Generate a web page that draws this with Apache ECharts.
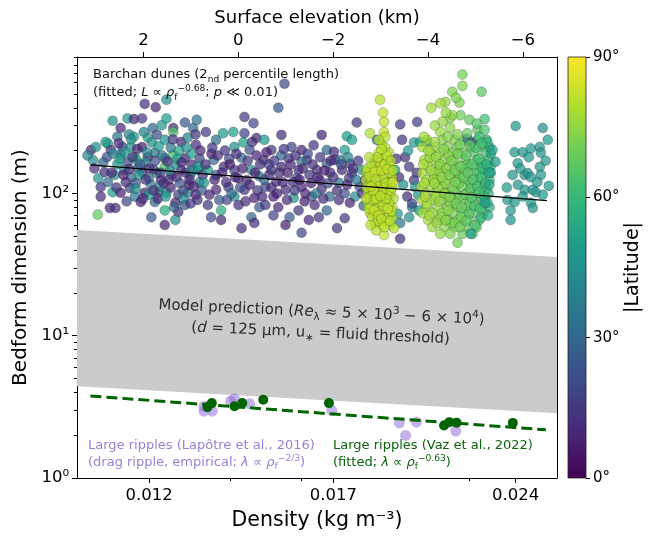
<!DOCTYPE html>
<html>
<head>
<meta charset="utf-8">
<title>Bedform dimension vs density</title>
<script src="https://cdn.jsdelivr.net/npm/echarts@6/dist/echarts.min.js"></script>
<style>
  html, body { margin: 0; padding: 0; background: #fff; }
  #main { width: 652px; height: 537px; }
</style>
</head>
<body>
<div id="main"></div>
<script>
// ---- data: [density (kg m^-3), length (m), |latitude| (deg)] ----
var duneWestMixed = [
  [0.01075,202,10],[0.01079,172,45],[0.01085,212,45],[0.01095,111,15],[0.01095,95,12],[0.01089,71,68],
  [0.01110,224,48],[0.01116,202,15],[0.01103,141,12],[0.01124,135,45],[0.01120,102,50],[0.01114,79,10],
  [0.01126,79,12],[0.01120,324,45],[0.01137,288,10],[0.01152,337,48],[0.01166,333,12],[0.01184,337,15],
  [0.01130,250,35],[0.01141,212,20],[0.01159,212,45],[0.01166,250,50],[0.01184,212,10],[0.01197,247,48],
  [0.01208,288,30],[0.01218,259,22],[0.01229,302,48],[0.01236,238,45],[0.01240,337,50],[0.01256,288,12],
  [0.01256,270,65],[0.01275,230,10],[0.01284,315,25],[0.01291,247,40],[0.01304,288,30],[0.01311,220,12],
  [0.01137,187,28],[0.01152,166,20],[0.01168,180,62],[0.01197,180,10],[0.01213,193,35],[0.01236,177,28],
  [0.01256,187,62],[0.01284,177,10],[0.01145,146,40],[0.01161,130,30],[0.01184,141,15],[0.01199,128,25],
  [0.01218,139,40],[0.01236,154,65],[0.01252,135,20],[0.01275,146,12],[0.01297,135,30],[0.01316,146,45],
  [0.01137,101,8],[0.01157,109,20],[0.01168,95,35],[0.01190,101,10],[0.01199,98,50],[0.01222,102,25],
  [0.01240,101,45],[0.01268,98,15],[0.01291,101,35],[0.01311,98,10],[0.01181,87,10],[0.01213,87,30],
  [0.01236,76,55],[0.01261,86,10],[0.01284,83,25],[0.01268,74,12],[0.01236,60,10],[0.01261,65,45],
  [0.01190,426,12],[0.01215,403,10],[0.01240,455,45],[0.01313,329,35],[0.01172,172,55],[0.01204,115,35],
  [0.01227,124,10],[0.01294,115,8],[0.01108,180,20],[0.01130,160,48],[0.01148,120,12],[0.01175,150,28],
  [0.01192,165,45],[0.01210,148,18],[0.01225,112,40],[0.01245,125,14],[0.01262,160,42],[0.01280,105,20],
  [0.01300,160,12],[0.01320,120,40],[0.01170,118,22],[0.01250,210,35],[0.01300,190,48],[0.01155,260,40],
  [0.01270,200,52],[0.01320,175,18],[0.01110,120,30],[0.01205,68,25],
  [0.01068,185,40],[0.01082,150,12],[0.01090,128,45],[0.01100,165,30],[0.01105,230,48],[0.01118,140,10],
  [0.01122,190,42],[0.01128,110,15],[0.01133,225,12],[0.01135,175,50],[0.01143,135,8],[0.01146,195,48],
  [0.01150,88,20],[0.01156,148,12],[0.01160,240,45],[0.01163,180,15],[0.01170,108,45],[0.01173,205,10],
  [0.01178,135,48],[0.01180,160,25],[0.01186,92,12],[0.01188,270,40],[0.01192,125,15],[0.01195,195,42],
  [0.01200,150,10],[0.01206,228,45],[0.01210,105,12],[0.01214,170,22],[0.01220,92,10],[0.01222,215,48],
  [0.01226,140,14],[0.01230,185,35],[0.01234,118,10],[0.01238,95,48],[0.01242,168,12],[0.01248,145,40],
  [0.01250,110,10],[0.01255,240,15],[0.01258,80,30],[0.01264,130,10],[0.01266,175,48],[0.01272,118,22],
  [0.01276,165,10],[0.01280,92,40],[0.01286,140,12],[0.01288,210,45],[0.01295,125,10],[0.01298,85,15],
  [0.01303,145,42],[0.01306,112,10],[0.01310,260,15],[0.01315,90,12],[0.01318,155,48],[0.01322,200,10],
  [0.01326,105,25],[0.01328,135,12]
];
var duneMidDark = [
  [0.01550,590,20],[0.01532,400,25],[0.01437,345,15],[0.01462,312,20],[0.01437,265,18],[0.01407,270,50],
  [0.01336,270,15],[0.01362,238,32],[0.01380,265,48],[0.01410,212,45],[0.01434,228,50],[0.01470,245,12],
  [0.01492,238,48],[0.01512,202,15],[0.01541,258,12],[0.01571,212,18],[0.01601,202,10],[0.01638,218,14],
  [0.01663,258,10],[0.01679,202,30],[0.01341,146,50],[0.01356,172,32],[0.01382,154,12],[0.01410,146,15],
  [0.01429,178,30],[0.01456,146,45],[0.01490,172,10],[0.01512,146,15],[0.01541,154,8],[0.01562,176,12],
  [0.01592,146,10],[0.01617,172,18],[0.01648,146,12],[0.01679,162,28],[0.01331,119,45],[0.01362,106,10],
  [0.01394,111,15],[0.01410,95,45],[0.01437,106,12],[0.01464,93,8],[0.01495,111,20],[0.01518,95,10],
  [0.01553,106,12],[0.01577,93,45],[0.01601,111,10],[0.01632,95,25],[0.01663,108,12],[0.01688,95,30],
  [0.01341,83,15],[0.01375,76,55],[0.01421,83,12],[0.01478,80,25],[0.01532,80,10],[0.01592,76,15],
  [0.01641,83,12],[0.01349,68,20],[0.01375,65,10],[0.01456,68,30],[0.01464,62,12],[0.01518,70,18],
  [0.01565,68,25],[0.01623,65,10],[0.01654,68,15],[0.01362,135,25],[0.01443,124,10],[0.01478,132,35],
  [0.01526,121,12],[0.01586,128,20],[0.01657,124,10],[0.01396,175,20],[0.01601,167,30],[0.01451,202,22],
  [0.01495,83,15],[0.01553,60,8],[0.01429,57,12],[0.01601,53,20],[0.01350,190,10],[0.01420,128,8],
  [0.01505,160,18],[0.01575,120,10],[0.01625,135,15],[0.01690,140,12],[0.01470,185,10],[0.01540,185,30],
  [0.01610,88,8],[0.01390,90,20],
  [0.01335,160,12],[0.01345,98,10],[0.01352,210,15],[0.01358,125,8],[0.01366,185,12],[0.01370,90,25],
  [0.01378,140,10],[0.01385,200,15],[0.01388,120,12],[0.01398,160,8],[0.01402,100,30],[0.01412,130,12],
  [0.01415,190,10],[0.01425,110,20],[0.01432,150,8],[0.01440,88,12],[0.01446,170,15],[0.01452,115,10],
  [0.01458,230,12],[0.01466,140,8],[0.01473,105,15],[0.01480,160,12],[0.01486,95,10],[0.01492,125,30],
  [0.01498,195,8],[0.01506,135,12],[0.01512,110,10],[0.01520,170,15],[0.01528,100,8],[0.01535,140,12],
  [0.01545,120,10],[0.01548,205,15],[0.01557,90,12],[0.01560,140,8],[0.01568,160,10],[0.01580,105,15],
  [0.01583,185,12],[0.01595,125,8],[0.01605,150,12],[0.01612,100,10],[0.01620,190,20],[0.01630,118,8],
  [0.01635,160,12],[0.01645,100,35],[0.01650,130,10],[0.01658,180,15],[0.01668,92,12],[0.01672,145,8],
  [0.01683,118,20],[0.01692,170,12]
];
var duneEastMixed = [
  [0.01777,315,15],[0.01929,305,15],[0.01992,318,18],[0.01744,252,48],[0.01761,238,50],[0.01846,238,35],
  [0.01936,238,15],[0.01980,228,48],[0.02003,230,50],[0.02030,228,48],[0.01737,202,50],[0.01702,196,12],
  [0.01705,172,10],[0.01722,172,35],[0.01754,162,12],[0.01728,146,10],[0.01761,139,15],[0.01794,146,45],
  [0.01805,124,12],[0.01787,111,20],[0.01751,128,15],[0.01718,119,35],[0.01737,100,22],[0.01771,95,45],
  [0.01718,90,12],[0.01754,86,10],[0.01737,67,15],[0.01947,180,12],[0.01962,154,15],[0.01925,130,12],
  [0.01911,146,48],[0.01980,124,15],[0.01984,111,48],[0.01973,80,35],[0.01962,68,45],[0.01929,62,35],
  [0.01929,48,12],[0.01973,85,20],[0.01996,98,48],[0.02000,76,48],[0.01712,57,15],[0.01679,76,30],
  [0.01700,130,15],[0.01712,105,12],[0.01725,160,20],[0.01745,115,10],[0.01748,180,40],[0.01765,150,12],
  [0.01775,125,35],[0.01782,170,15],[0.01795,100,12],[0.01800,82,30],[0.01915,175,15],[0.01940,115,45],
  [0.01955,95,12],[0.01958,200,48],[0.01990,140,15],[0.01920,72,48]
];
var duneYellowColumn = [
  [0.01857,455,80],[0.01868,370,81],[0.01871,318,80],[0.01871,270,82],[0.01875,250,80],[0.01822,265,79],
  [0.01864,218,81],[0.01875,210,80],[0.01853,193,82],[0.01889,193,79],[0.01839,172,80],[0.01864,172,81],
  [0.01882,172,79],[0.01836,154,82],[0.01857,154,80],[0.01893,154,78],[0.01811,141,80],[0.01829,130,81],
  [0.01853,135,80],[0.01875,135,82],[0.01900,130,79],[0.01818,111,81],[0.01839,115,80],[0.01864,115,82],
  [0.01889,111,80],[0.01822,95,79],[0.01846,98,81],[0.01871,95,80],[0.01893,98,78],[0.01829,80,80],
  [0.01853,83,82],[0.01875,80,81],[0.01900,80,79],[0.01822,73,80],[0.01846,70,81],[0.01875,70,80],
  [0.01900,68,78],[0.01839,62,80],[0.01864,60,82],[0.01893,60,79],[0.01871,51,81],[0.01907,57,79],
  [0.01808,124,80],[0.01832,102,81],[0.01886,122,80],[0.01860,88,82],[0.01815,85,80],[0.01882,65,81],
  [0.01843,55,80],[0.01853,238,80],[0.01826,120,82],[0.01848,105,80],[0.01880,90,81],[0.01834,90,79],
  [0.01896,118,80],[0.01858,75,81],[0.01830,68,80],[0.01885,100,82],[0.01815,100,80],[0.01868,128,79],
  [0.01845,146,81],[0.01890,140,80],[0.01905,92,78],[0.01890,72,80],[0.01850,64,80],
  [0.01812,150,81],[0.01820,132,80],[0.01828,160,79],[0.01838,142,82],[0.01842,125,80],[0.01850,112,81],
  [0.01855,165,80],[0.01862,145,82],[0.01866,100,80],[0.01870,108,79],[0.01874,160,81],[0.01878,118,80],
  [0.01884,148,82],[0.01888,85,80],[0.01895,105,81],[0.01898,75,80],[0.01810,110,79],[0.01818,78,81],
  [0.01824,60,80],[0.01836,76,82],[0.01842,92,80],[0.01852,70,81],[0.01862,66,80],[0.01868,82,79],
  [0.01872,58,81],[0.01878,92,80],[0.01884,78,82],[0.01892,64,80],[0.01900,110,80],[0.01903,145,79],
  [0.01835,105,81],[0.01858,96,80],[0.01848,180,80],[0.01880,185,81],[0.01862,205,80],[0.01820,180,79],
  [0.01896,170,80],[0.01902,120,82],[0.01808,92,80],[0.01826,112,81]
];
var duneGreenCluster = [
  [0.02170,685,70],[0.02129,518,72],[0.02170,570,72],[0.02250,518,66],[0.02158,435,72],[0.02101,440,75],
  [0.02121,340,73],[0.02162,355,70],[0.02199,329,68],[0.02263,333,62],[0.02046,400,77],[0.02081,430,77],
  [0.02129,355,74],[0.02081,270,76],[0.02233,280,66],[0.02263,280,65],
  [0.02030,238,77],[0.02089,238,74],[0.02137,238,72],[0.02178,238,70],[0.02233,238,65],[0.02271,238,60],
  [0.02011,212,77],[0.02062,212,76],[0.02109,212,73],[0.02150,212,71],[0.02204,212,67],[0.02254,212,64],[0.02284,212,55],
  [0.02042,193,76],[0.02081,193,75],[0.02129,193,72],[0.02170,193,70],[0.02220,193,66],[0.02267,193,63],
  [0.02019,172,78],[0.02058,172,76],[0.02097,172,74],[0.02137,172,71],[0.02183,172,69],[0.02229,172,66],[0.02280,172,62],
  [0.02034,154,77],[0.02077,154,75],[0.02117,154,73],[0.02158,154,70],[0.02199,154,67],[0.02245,154,64],[0.02288,154,58],
  [0.02011,139,78],[0.02054,139,76],[0.02093,139,74],[0.02133,139,71],[0.02174,139,69],[0.02216,139,66],[0.02263,139,63],
  [0.02027,124,77],[0.02070,124,75],[0.02109,124,73],[0.02150,124,71],[0.02191,124,68],[0.02237,124,65],[0.02284,124,60],
  [0.02007,111,78],[0.02046,111,76],[0.02089,111,74],[0.02129,111,72],[0.02170,111,70],[0.02212,111,67],[0.02258,111,63],
  [0.02023,100,77],[0.02062,100,76],[0.02105,100,73],[0.02145,100,71],[0.02187,100,68],[0.02229,100,65],[0.02280,100,58],
  [0.02011,90,78],[0.02050,90,76],[0.02093,90,74],[0.02133,90,72],[0.02174,90,69],[0.02216,90,66],[0.02263,90,62],
  [0.02027,80,77],[0.02070,80,75],[0.02109,80,73],[0.02150,80,70],[0.02191,80,68],[0.02237,80,64],[0.02284,80,55],
  [0.02011,73,77],[0.02050,73,76],[0.02089,73,74],[0.02129,73,71],[0.02170,73,69],[0.02212,73,66],[0.02258,73,62],
  [0.02034,65,77],[0.02074,65,75],[0.02113,65,73],[0.02154,65,70],[0.02195,65,67],[0.02241,65,63],
  [0.02050,58,76],[0.02097,58,74],[0.02137,58,71],[0.02183,58,68],[0.02229,58,64],
  [0.02081,52,75],[0.02121,52,72],[0.02170,52,69],[0.02212,52,66],[0.02150,45,70],[0.02204,52,50],
  [0.02208,228,20],[0.02191,242,30],
  [0.02040,180,76],[0.02115,185,73],[0.02190,160,68],[0.02250,165,63],[0.02075,145,75],[0.02160,130,70],
  [0.02240,140,64],[0.02020,118,78],[0.02100,118,74],[0.02205,118,66],[0.02270,108,61],[0.02065,95,76],
  [0.02160,95,70],[0.02245,95,63],[0.02030,85,77],[0.02120,86,72],[0.02200,86,67],[0.02275,86,57],
  [0.02085,68,74],[0.02165,68,70],[0.02250,68,60],[0.02125,62,72],[0.02060,300,76],[0.02120,290,74],
  [0.02190,265,69],[0.02150,260,72],[0.02240,250,62],[0.02290,190,52],[0.02290,140,50],[0.02275,230,58],
  [0.02015,160,78],[0.02035,200,77],[0.02045,145,76],[0.02055,125,76],[0.02065,180,75],[0.02072,110,75],
  [0.02080,160,74],[0.02088,130,74],[0.02095,205,73],[0.02098,100,74],[0.02105,150,73],[0.02112,76,73],
  [0.02118,135,72],[0.02125,170,72],[0.02132,105,71],[0.02140,145,71],[0.02145,85,70],[0.02152,190,70],
  [0.02156,118,70],[0.02163,155,69],[0.02167,80,69],[0.02175,130,68],[0.02180,98,68],[0.02186,185,67],
  [0.02193,140,67],[0.02198,72,66],[0.02203,108,66],[0.02210,160,65],[0.02215,125,65],[0.02220,82,64],
  [0.02226,210,64],[0.02232,112,63],[0.02238,175,62],[0.02244,78,62],[0.02248,130,61],[0.02255,150,60],
  [0.02260,96,60],[0.02266,118,58],[0.02272,160,56],[0.02278,70,55],[0.02282,140,52],[0.02022,95,78],
  [0.02038,70,77],[0.02058,118,76],[0.02068,62,75],[0.02078,88,75],[0.02102,65,73],[0.02118,95,72],
  [0.02138,62,71],[0.02142,120,71],[0.02160,58,70],[0.02185,64,68],[0.02208,94,66],[0.02222,60,64],
  [0.02240,102,63],[0.02018,250,77],[0.02060,230,76],[0.02110,250,73],[0.02160,220,70],[0.02200,220,67],
  [0.02250,225,62],[0.02090,320,75],[0.02230,310,65],[0.02144,470,72],[0.02103,370,75]
];
var duneTealRight = [
  [0.02297,202,50],[0.02310,167,48],[0.02400,298,47],[0.02526,288,45],[0.02550,238,48],[0.02395,195,47],
  [0.02432,195,46],[0.02470,207,48],[0.02512,212,46],[0.02517,193,47],[0.02409,163,48],[0.02386,135,46],
  [0.02441,135,47],[0.02455,139,45],[0.02470,130,48],[0.02512,154,46],[0.02517,135,47],[0.02441,106,48],
  [0.02479,106,46],[0.02493,102,47],[0.02526,98,48],[0.02555,113,47],[0.02363,90,48],[0.02395,87,46],
  [0.02432,95,47],[0.02470,86,50],[0.02479,79,46],[0.02377,76,47],[0.02377,65,46],[0.02284,115,52],
  [0.02263,86,50],[0.02500,120,47],[0.02420,150,46],[0.02460,180,48],[0.02540,170,46],[0.02360,110,47],
  [0.02410,115,46]
];

// large ripples: [density, wavelength (m)]
var rippleLapotre = [
  [0.01331,3.19],[0.01331,2.95],[0.01352,2.95],[0.01400,3.47],[0.01410,3.61],[0.01451,3.33],
  [0.01695,2.98],[0.01926,2.44],[0.01989,2.47],[0.01949,1.99],[0.02143,2.14]
];
var rippleVaz = [
  [0.01340,3.15],[0.01351,3.36],[0.01410,3.19],[0.01431,3.36],[0.01489,3.55],[0.01686,3.36],
  [0.02096,2.34],[0.02117,2.47],[0.02146,2.45],[0.02387,2.44]
];

// fitted lines
var duneFitX = [0.01074, 0.02546];
var duneFitY = [158.8, 89.0];
var rippleFitX = [0.01074, 0.02541];
var rippleFitY = [3.77, 2.18];

// model prediction band
var bandX = [0.01047, 0.02595];
var bandTop = [55.3, 35.7];
var bandBottom = [4.41, 2.85];

// axes
var xMin = 0.01047, xMax = 0.02595;
var yMin = 1, yMax = 910;
var xTickValues = [0.012, 0.017, 0.024];
var xTickLabels = ['0.012', '0.017', '0.024'];
var xMinorTicks = [0.014, 0.016, 0.022];
var yTickValues = [1, 10, 100];
var yTickLabels = ['10\u2070', '10\u00b9', '10\u00b2'];
var yMinorTicks = [2,3,4,5,6,7,8,9,20,30,40,50,60,70,80,90,200,300,400,500,600,700,800,900];
var elevMin = -6.72, elevMax = 3.40;
var elevTicks = [2, 0, -2, -4, -6];
var latTicks = [0, 30, 60, 90];

var viridis = ['#440154','#482878','#3e4989','#31688e','#26828e','#1f9e89','#35b779','#6ece58','#b5de2b','#fde725'];

var FONT = 'DejaVu Sans';

function richStyles(size) {
  return {
    i: { fontFamily: FONT, fontSize: size, fontStyle: 'italic' },
    sub: { fontFamily: FONT, fontSize: size * 0.7, verticalAlign: 'bottom', lineHeight: 10 },
    sup: { fontFamily: FONT, fontSize: size * 0.7, verticalAlign: 'top', lineHeight: 8 }
  };
}

function pairs(xs, ys) {
  return xs.map(function (x, i) { return [x, ys[i]]; });
}

var chart = echarts.init(document.getElementById('main'));

function duneSeries(data) {
  return {
    type: 'scatter',
    data: data,
    symbolSize: 10,
    itemStyle: { opacity: 0.72, borderColor: 'rgba(0,0,0,0.55)', borderWidth: 0.5 },
    emphasis: { disabled: true }
  };
}

var axisLineBlack = { onZero: false, lineStyle: { color: '#000', width: 1 } };
var nameStyle = { fontFamily: FONT, fontSize: 20, color: '#000' };

var option = {
  animation: false,
  backgroundColor: '#fff',
  grid: [
    { left: 77, top: 57, width: 480, height: 421 },
    { left: 568, top: 57, width: 18, height: 421 }
  ],
  xAxis: [
    {
      type: 'log', gridIndex: 0, position: 'bottom', min: xMin, max: xMax,
      name: 'Density (kg m\u207b\u00b3)', nameLocation: 'middle', nameGap: 32,
      nameTextStyle: { fontFamily: FONT, fontSize: 20.5, color: '#000' },
      axisLine: axisLineBlack,
      axisTick: { customValues: xTickValues, length: 5, lineStyle: { color: '#000' } },
      axisLabel: {
        customValues: xTickValues, margin: 9, fontFamily: FONT, fontSize: 16.5, color: '#000',
        formatter: function (v) { return xTickLabels[xTickValues.indexOf(+(+v).toFixed(3))] || ''; }
      },
      splitLine: { show: false }
    },
    {
      type: 'value', gridIndex: 0, position: 'top', min: elevMin, max: elevMax, inverse: true,
      name: 'Surface elevation (km)', nameLocation: 'middle', nameGap: 30,
      nameTextStyle: { fontFamily: FONT, fontSize: 18, color: '#000' },
      axisLine: axisLineBlack,
      axisTick: { customValues: elevTicks, length: 5, lineStyle: { color: '#000' } },
      axisLabel: {
        customValues: elevTicks, margin: 8, fontFamily: FONT, fontSize: 16.5, color: '#000',
        formatter: function (v) { return String(Math.round(v)).replace('-', '\u2212'); }
      },
      splitLine: { show: false }
    },
    {
      type: 'log', gridIndex: 0, position: 'bottom', min: xMin, max: xMax,
      axisLine: { show: false, onZero: false },
      axisTick: { customValues: xMinorTicks, length: 3, lineStyle: { color: '#000' } },
      axisLabel: { show: false },
      splitLine: { show: false }
    },
    {
      type: 'value', gridIndex: 1, min: 0, max: 1, show: false
    }
  ],
  yAxis: [
    {
      type: 'log', gridIndex: 0, position: 'left', min: yMin, max: yMax,
      name: 'Bedform dimension (m)', nameLocation: 'middle', nameGap: 44, nameTextStyle: nameStyle,
      axisLine: axisLineBlack,
      axisTick: { customValues: yTickValues, length: 5, lineStyle: { color: '#000' } },
      axisLabel: {
        customValues: yTickValues, margin: 8, fontFamily: FONT, fontSize: 16.5, color: '#000',
        formatter: function (v) { return yTickLabels[yTickValues.indexOf(Math.round(v))] || ''; }
      },
      splitLine: { show: false }
    },
    {
      type: 'log', gridIndex: 0, position: 'right', min: yMin, max: yMax,
      axisLine: { show: true, onZero: false, lineStyle: { color: '#000', width: 1 } },
      axisTick: { show: false }, axisLabel: { show: false }, splitLine: { show: false }
    },
    {
      type: 'log', gridIndex: 0, position: 'left', min: yMin, max: yMax,
      axisLine: { show: false, onZero: false },
      axisTick: { customValues: yMinorTicks, length: 3, lineStyle: { color: '#000' } },
      axisLabel: { show: false }, splitLine: { show: false }
    },
    {
      type: 'value', gridIndex: 1, position: 'right', min: 0, max: 90,
      name: '|Latitude|', nameLocation: 'middle', nameGap: 34, nameRotate: 90,
      nameTextStyle: { fontFamily: FONT, fontSize: 19, color: '#000' },
      axisLine: { show: false, onZero: false },
      axisTick: { customValues: latTicks, length: 4, lineStyle: { color: '#000' } },
      axisLabel: {
        customValues: latTicks, margin: 7, fontFamily: FONT, fontSize: 15, color: '#000',
        formatter: function (v) { return Math.round(v) + '\u00b0'; }
      },
      splitLine: { show: false }
    }
  ],
  visualMap: {
    type: 'continuous', show: false, min: 0, max: 90, dimension: 2,
    seriesIndex: [1, 2, 3, 4, 5, 6],
    inRange: { color: viridis }
  },
  series: [
    {
      type: 'custom', xAxisIndex: 0, yAxisIndex: 0, clip: true, silent: true,
      data: [[bandX[0], bandTop[0]]],
      renderItem: function (params, api) {
        var pts = [];
        for (var i = 0; i < bandX.length; i++) pts.push(api.coord([bandX[i], bandTop[i]]));
        for (var j = bandX.length - 1; j >= 0; j--) pts.push(api.coord([bandX[j], bandBottom[j]]));
        return { type: 'polygon', shape: { points: pts }, style: { fill: '#cbcbcb' } };
      },
      z: 1
    },
    duneSeries(duneWestMixed),
    duneSeries(duneMidDark),
    duneSeries(duneEastMixed),
    duneSeries(duneYellowColumn),
    duneSeries(duneGreenCluster),
    duneSeries(duneTealRight),
    {
      type: 'line', data: pairs(duneFitX, duneFitY), showSymbol: false, silent: true,
      lineStyle: { color: '#000', width: 1.3 }, z: 5
    },
    {
      type: 'scatter', data: rippleLapotre, symbolSize: 11,
      itemStyle: { color: '#9370db', opacity: 0.55 }, z: 3
    },
    {
      type: 'line', data: pairs(rippleFitX, rippleFitY), showSymbol: false, silent: true,
      lineStyle: { color: '#006400', width: 3, type: [11, 5] }, z: 4
    },
    {
      type: 'scatter', data: rippleVaz, symbolSize: 10,
      itemStyle: { color: '#006400', opacity: 1 }, z: 5
    },
    {
      type: 'custom', xAxisIndex: 3, yAxisIndex: 3, silent: true,
      data: [[0, 0]],
      renderItem: function (params, api) {
        var a = api.coord([0, 90]);
        var b = api.coord([1, 0]);
        var stops = viridis.map(function (c, i) { return { offset: i / (viridis.length - 1), color: c }; });
        return {
          type: 'rect',
          shape: { x: a[0], y: a[1], width: b[0] - a[0], height: b[1] - a[1] },
          style: { fill: new echarts.graphic.LinearGradient(0, 1, 0, 0, stops), stroke: '#222', lineWidth: 0.8 }
        };
      }
    }
  ],
  graphic: [
    {
      type: 'text', x: 93, y: 66, z: 100,
      style: {
        text: 'Barchan dunes (2{sub|nd} percentile length)\n(fitted; {i|L} \u221d {i|\u03c1}{sub|f}{sup|\u22120.68}; {i|p} \u226a 0.01)',
        fontFamily: FONT, fontSize: 13, fill: '#111', lineHeight: 18,
        rich: richStyles(13)
      }
    },
    {
      type: 'text', x: 321, y: 323, rotation: -0.046, z: 100,
      style: {
        text: 'Model prediction ({i|Re}{sub|\u03bb} \u2248 5 \u00d7 10{sup|3} \u2212 6 \u00d7 10{sup|4})\n({i|d} = 125 \u03bcm, u{sub|\u2217} = fluid threshold)',
        fontFamily: FONT, fontSize: 15, fill: '#2b2b2b', lineHeight: 21,
        align: 'center', verticalAlign: 'middle', textAlign: 'center', textVerticalAlign: 'middle',
        rich: richStyles(15)
      }
    },
    {
      type: 'text', x: 88, y: 437, z: 100,
      style: {
        text: 'Large ripples (Lap\u00f4tre et al., 2016)\n(drag ripple, empirical; {i|\u03bb} \u221d {i|\u03c1}{sub|f}{sup|\u22122/3})',
        fontFamily: FONT, fontSize: 13, fill: '#9a7fd4', lineHeight: 17,
        rich: richStyles(13)
      }
    },
    {
      type: 'text', x: 333, y: 437, z: 100,
      style: {
        text: 'Large ripples (Vaz et al., 2022)\n(fitted; {i|\u03bb} \u221d {i|\u03c1}{sub|f}{sup|\u22120.63})',
        fontFamily: FONT, fontSize: 13, fill: '#0a640a', lineHeight: 17,
        rich: richStyles(13)
      }
    }
  ]
};

chart.setOption(option);
</script>
</body>
</html>
